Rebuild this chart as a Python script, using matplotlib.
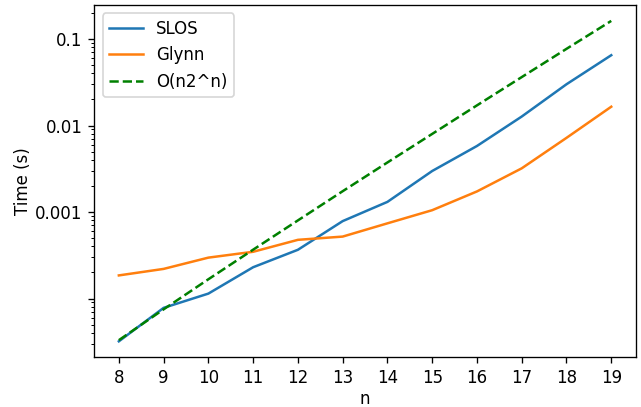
import matplotlib
matplotlib.use("Agg")
import matplotlib.pyplot as plt

n = [8, 9, 10, 11, 12, 13, 14, 15, 16, 17, 18, 19]

# timings (seconds)
slos = [3.2e-5, 7.8e-5, 1.14e-4, 2.3e-4, 3.66e-4, 7.85e-4, 1.31e-3,
        2.98e-3, 5.8e-3, 1.27e-2, 3.0e-2, 6.5e-2]
glynn = [1.85e-4, 2.2e-4, 2.97e-4, 3.47e-4, 4.77e-4, 5.2e-4, 7.4e-4,
         1.05e-3, 1.73e-3, 3.2e-3, 7.2e-3, 1.65e-2]
ref = [3.3e-5, 7.5e-5, 1.67e-4, 3.67e-4, 8.0e-4, 1.74e-3, 3.74e-3,
       8.0e-3, 1.71e-2, 3.63e-2, 7.7e-2, 0.162]

ytick_vals = [1e-4, 1e-3, 1e-2, 1e-1]
ytick_labels = ["", "0.001", "0.01", "0.1"]

dpi = 120
fig = plt.figure(figsize=(641 / dpi, 407 / dpi), dpi=dpi)
ax = fig.add_subplot()
ax.plot(n, slos, label="SLOS")
ax.plot(n, glynn, label="Glynn")
ax.plot(n, ref, "g--", label="O(n2^n)")
ax.set_yscale("log")
ax.set_yticks(ytick_vals, ytick_labels)
ax.set_xticks(n)
ax.set_xlabel("n", labelpad=2)
ax.set_ylabel("Time (s)", labelpad=2)
ax.legend(loc="upper left")

fig.subplots_adjust(left=0.147, right=0.992, bottom=0.122, top=0.988)
fig.savefig("out.png", dpi=dpi)
plt.close(fig)
